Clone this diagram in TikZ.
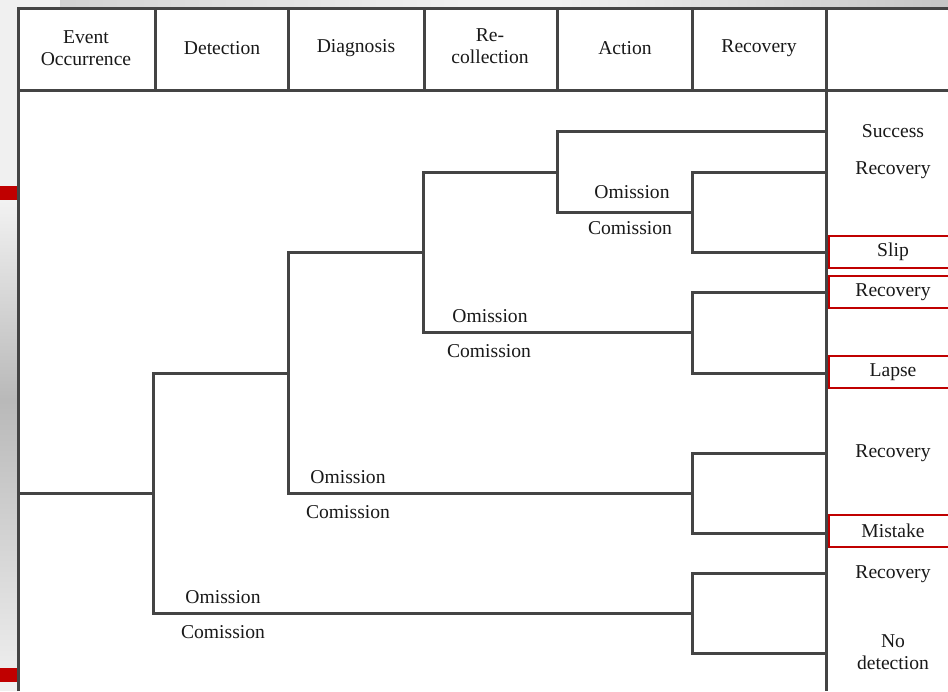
\documentclass[tikz,border=0pt]{standalone}
\usepackage{fontspec}
\setmainfont{Liberation Serif}
\usetikzlibrary{positioning}
\definecolor{linegray}{HTML}{444444}
\definecolor{slidered}{HTML}{C00000}

\begin{document}
\begin{tikzpicture}[x=0.5pt, y=-0.5pt, line width=1.5pt,
  every node/.style={font=\fontsize{9.8}{11}\selectfont, text=black!90},
  frame/.style={draw=linegray, line width=1.5pt},
  branch/.style={draw=linegray, line width=1.5pt},
  errbox/.style={draw=slidered, line width=1pt, minimum width=64pt,
    minimum height=16pt, inner sep=0pt}]
  \useasboundingbox (0,0) rectangle (948,691);
  \clip (0,0) rectangle (948,691);
  % slide background behind the table
  \fill[gray!12] (0,0) rectangle (948,691);
  \shade[left color=gray!12, right color=gray!45] (560,0) rectangle (948,8);
  \shade[left color=gray!35, right color=gray!12] (60,0) rectangle (460,8);
  \shade[top color=gray!10, bottom color=gray!55] (0,200) rectangle (17,400);
  \shade[top color=gray!55, bottom color=gray!15] (0,400) rectangle (17,668);
  \fill[slidered] (0,186) rectangle (17,200);
  \fill[slidered] (0,668) rectangle (17,682);
  \fill[white] (18,8) rectangle (960,700);

  % table frame and header cells
  \draw[frame] (18,691) -- (18,8) -- (948,8);
  \draw[frame] (18,90) -- (948,90);
  \foreach \cx in {155,288,424,557,692}
    \draw[frame] (\cx,8) -- (\cx,90);
  \draw[frame] (826,8) -- (826,691);

  \node[align=center] (hEvent) at (86,48) {Event\\Occurrence};
  \node (hDetect) at (222,48) {Detection};
  \node (hDiag) at (356,48) {Diagnosis};
  \node[align=center] (hRecoll) at (490,46) {Re-\\collection};
  \node (hAction) at (625,48) {Action};
  \node (hRecov) at (759,48) {Recovery};

  % junctions of the tree
  \coordinate (start) at (18,493);
  \coordinate (det) at (153,493);
  \coordinate (diag) at (288,373);
  \coordinate (recoll) at (423,252);
  \coordinate (act) at (557,172);
  \coordinate (rcv1) at (692,212);
  \coordinate (rcv2) at (692,332);
  \coordinate (rcv3) at (692,493);
  \coordinate (rcv4) at (692,613);
  % branch ends on the outcome column
  \coordinate (eSuccess) at (826,131);
  \coordinate (eRec1) at (826,172);
  \coordinate (eSlip) at (826,252);
  \coordinate (eRec2) at (826,292);
  \coordinate (eLapse) at (826,373);
  \coordinate (eRec3) at (826,453);
  \coordinate (eMistake) at (826,533);
  \coordinate (eRec4) at (826,573);
  \coordinate (eNoDet) at (826,653);

  % branches
  \draw[branch] (start) -- (det);
  \draw[branch] (diag) -| (det) |- (rcv4);
  \draw[branch] (recoll) -| (diag) |- (rcv3);
  \draw[branch] (act) -| (recoll) |- (rcv2);
  \draw[branch] (eSuccess) -| (act) |- (rcv1);
  \draw[branch] (eRec1) -| (rcv1) |- (eSlip);
  \draw[branch] (eRec2) -| (rcv2) |- (eLapse);
  \draw[branch] (eRec3) -| (rcv3) |- (eMistake);
  \draw[branch] (eRec4) -| (rcv4) |- (eNoDet);

  % omission / comission labels
  \node (om1) at (632,192) {Omission};
  \node (com1) at (630,228) {Comission};
  \node (om2) at (490,316) {Omission};
  \node (com2) at (489,351) {Comission};
  \node (om3) at (348,477) {Omission};
  \node (com3) at (348,512) {Comission};
  \node (om4) at (223,597) {Omission};
  \node (com4) at (223,632) {Comission};

  % outcomes
  \node (oSuccess) at (893,131) {Success};
  \node (oRec1) at (893,170) {Recovery};
  \node[errbox] (oSlip) at (893,252) {Slip};
  \node[errbox] (oRec2) at (893,292) {Recovery};
  \node[errbox] (oLapse) at (893,372) {Lapse};
  \node (oRec3) at (893,453) {Recovery};
  \node[errbox] (oMistake) at (893,531) {Mistake};
  \node (oRec4) at (893,574) {Recovery};
  \node[align=center] (oNoDet) at (893,652) {No\\detection};
\end{tikzpicture}
\end{document}
